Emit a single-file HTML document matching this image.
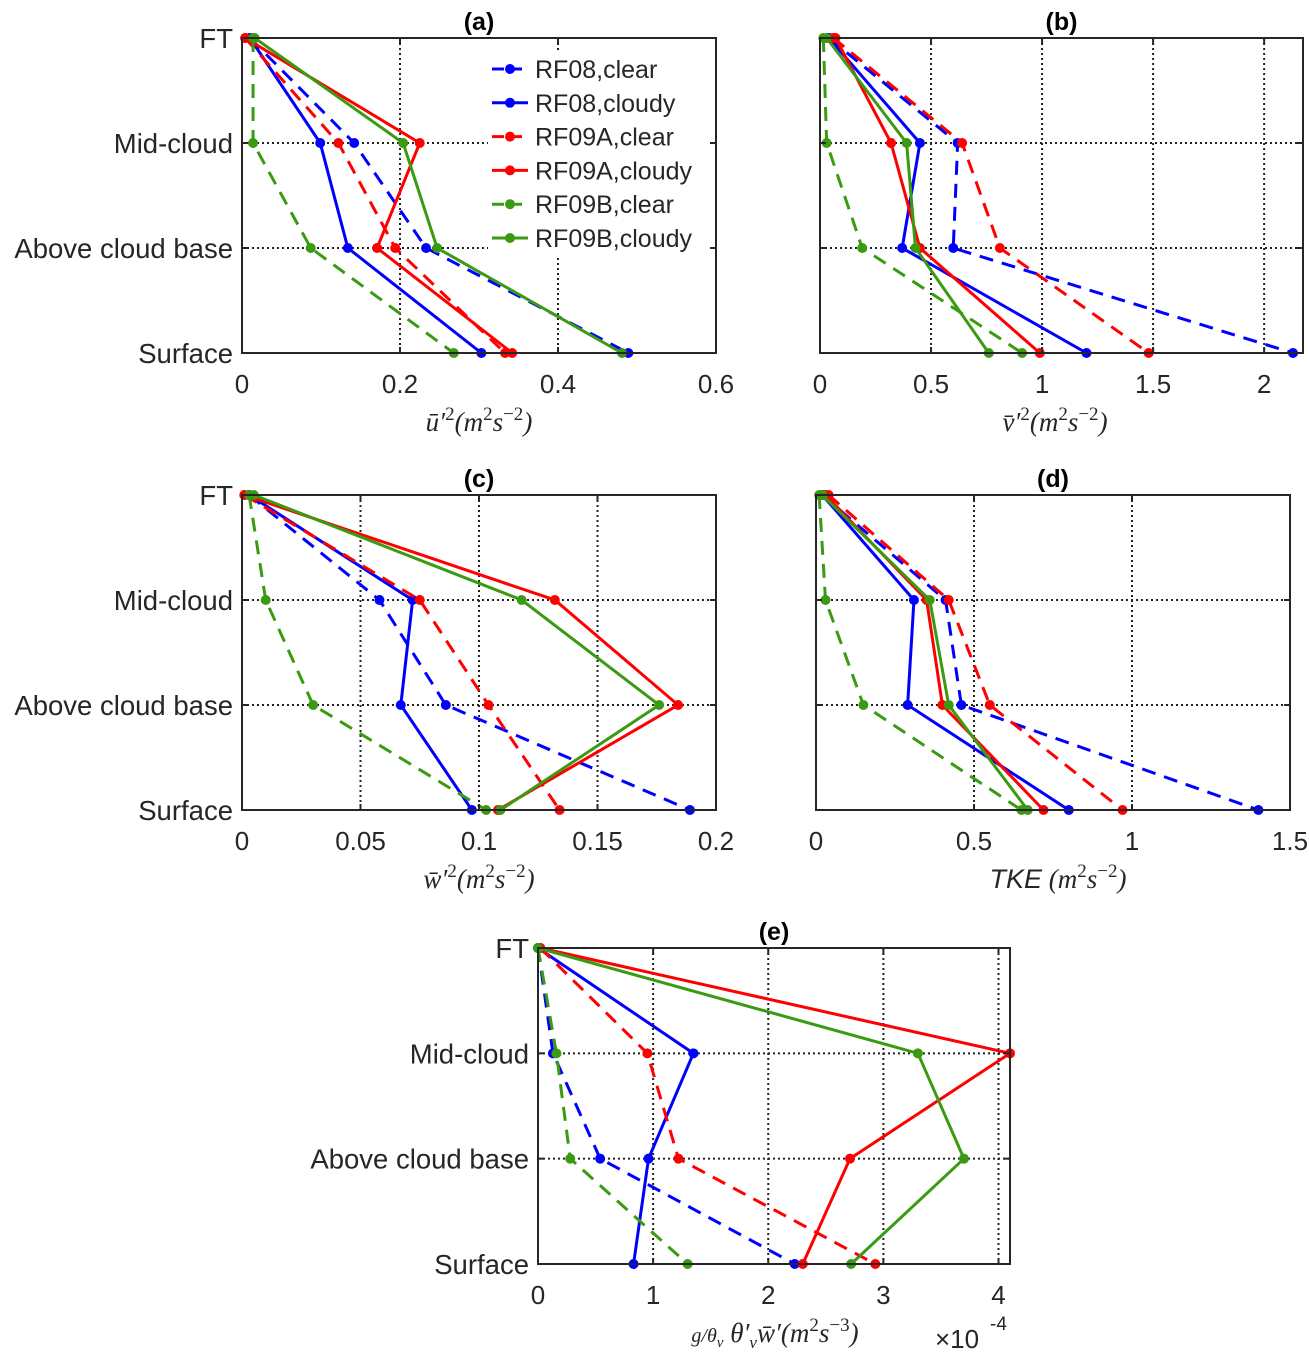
<!DOCTYPE html>
<html><head><meta charset="utf-8">
<style>
body{margin:0;background:#fff;}
svg{display:block;font-family:"Liberation Sans",Arial,sans-serif;}
.tick{font-size:26px;fill:#262626;}
.ytick{font-size:27.5px;fill:#262626;}
.leg{font-size:25px;fill:#262626;}
.lab{font-size:27px;fill:#262626;font-family:"Liberation Serif",serif;font-style:italic;}
.ttl{font-size:25px;font-weight:bold;fill:#000;}
</style></head>
<body>
<svg id="fig" width="1309" height="1356"></svg>
<script>
const levels=["FT","Mid-cloud","Above cloud base","Surface"];
const seriesNames=["RF08,clear","RF08,cloudy","RF09A,clear","RF09A,cloudy","RF09B,clear","RF09B,cloudy"];
const seriesColors=["#0000ff","#0000ff","#ff0000","#ff0000","#3a9a12","#3a9a12"];
const seriesDashed=[true,false,true,false,true,false];
// values per panel, per series, ordered FT, Mid, ACB, Surface
const uVals=[[0.01,0.142,0.233,0.489],[0.01,0.099,0.134,0.303],[0.004,0.122,0.194,0.333],[0.004,0.225,0.171,0.342],[0.014,0.014,0.087,0.268],[0.016,0.204,0.247,0.481]];
const vVals=[[0.04,0.62,0.60,2.13],[0.04,0.45,0.37,1.20],[0.06,0.64,0.81,1.48],[0.07,0.32,0.45,0.99],[0.015,0.03,0.19,0.91],[0.03,0.39,0.43,0.76]];
const wVals=[[0.003,0.058,0.086,0.189],[0.003,0.072,0.067,0.097],[0.001,0.075,0.104,0.134],[0.001,0.132,0.184,0.108],[0.003,0.010,0.030,0.103],[0.005,0.118,0.176,0.109]];
const tkeVals=[[0.02,0.41,0.46,1.40],[0.02,0.31,0.29,0.80],[0.04,0.42,0.55,0.97],[0.03,0.35,0.40,0.72],[0.01,0.03,0.15,0.65],[0.02,0.36,0.42,0.67]];
const buoyVals=[[0,0.13,0.54,2.23],[0,1.35,0.96,0.83],[0.02,0.95,1.22,2.93],[0.02,4.1,2.71,2.30],[0,0.16,0.28,1.30],[0,3.30,3.70,2.72]];
const uTicks=[0,0.2,0.4,0.6], vTicks=[0,0.5,1,1.5,2], wTicks=[0,0.05,0.1,0.15,0.2], tkeTicks=[0,0.5,1,1.5], bTicks=[0,1,2,3,4];

const NS="http://www.w3.org/2000/svg";
const fig=document.getElementById('fig');
function el(tag,attrs,parent,text){const e=document.createElementNS(NS,tag);for(const k in attrs)e.setAttribute(k,attrs[k]);if(text!==undefined)e.textContent=text;(parent||fig).appendChild(e);return e;}

function panel(cfg){
  const g=el('g',{});
  
  
  const x=v=>cfg.x0+(v-cfg.xmin)/(cfg.xmax-cfg.xmin)*(cfg.x1-cfg.x0);
  const y=i=>cfg.y0+i*(cfg.y1-cfg.y0)/3;
  cfg.ticks.forEach(t=>{ if(t>cfg.xmin&&t<cfg.xmax){const l=el('line',{x1:x(t),x2:x(t),y1:cfg.y0,y2:cfg.y1,stroke:'#222','stroke-width':2,'stroke-dasharray':'2,3'},g);}});
  levels.forEach((L,i)=>{ if(i>0&&i<3){const l=el('line',{x1:cfg.x0,x2:cfg.x1,y1:y(i),y2:y(i),stroke:'#222','stroke-width':2,'stroke-dasharray':'2,3'},g);}});
  cfg.vals.forEach((vals,s)=>{
    const pts=vals.map((v,i)=>x(v)+','+y(i)).join(' ');
    const pl=el('polyline',{points:pts,fill:'none',stroke:seriesColors[s],'stroke-width':3,'stroke-dasharray':seriesDashed[s]?'14,9':'none'},g);
    
    
    vals.forEach((v,i)=>{const c=el('circle',{cx:x(v),cy:y(i),r:5,fill:seriesColors[s]},g);
      
      });
  });
  const r=el('rect',{x:cfg.x0,y:cfg.y0,width:cfg.x1-cfg.x0,height:cfg.y1-cfg.y0,fill:'none',stroke:'#262626','stroke-width':2},g);
  
  
  cfg.ticks.forEach(t=>{
    el('line',{x1:x(t),x2:x(t),y1:cfg.y1,y2:cfg.y1-6,stroke:'#262626','stroke-width':2},g);
    el('line',{x1:x(t),x2:x(t),y1:cfg.y0,y2:cfg.y0+6,stroke:'#262626','stroke-width':2},g);
    const tx=el('text',{x:x(t),y:cfg.y1+40,'text-anchor':'middle',class:'tick'},g,String(t));
    
    
  });
  if(cfg.ylabels){levels.forEach((L,i)=>{const tx=el('text',{x:cfg.x0-9,y:y(i)+10,'text-anchor':'end',class:'ytick'},g,L);
    
    });}
  levels.forEach((L,i)=>{el('line',{x1:cfg.x0,x2:cfg.x0+6,y1:y(i),y2:y(i),stroke:'#262626','stroke-width':2},g);el('line',{x1:cfg.x1,x2:cfg.x1-6,y1:y(i),y2:y(i),stroke:'#262626','stroke-width':2},g);});
  const tt=el('text',{x:(cfg.x0+cfg.x1)/2,y:cfg.y0-8,'text-anchor':'middle',class:'ttl'},g,'('+cfg.id+')');
  
  
  const xl=el('text',{x:cfg.xlx,y:cfg.y1+78,'text-anchor':'middle',class:'lab'},g);
  
  
  xl.innerHTML=cfg.xlabel;
  return g;
}
const sup=(s)=>'<tspan dy="-11" font-size="19" font-style="normal">'+s+'</tspan>';
panel({id:'a',x0:242,x1:716,y0:38,y1:353,xmin:0,xmax:0.6,ticks:uTicks,vals:uVals,ylabels:true,xlx:479,xlabel:'u&#772;′'+sup('2')+'<tspan dy="11">(m</tspan>'+sup('2')+'<tspan dy="11">s</tspan>'+sup('−2')+'<tspan dy="11">)</tspan>'});
panel({id:'b',x0:820,x1:1303,y0:38,y1:353,xmin:0,xmax:2.175,ticks:vTicks,vals:vVals,ylabels:false,xlx:1055,xlabel:'v&#772;′'+sup('2')+'<tspan dy="11">(m</tspan>'+sup('2')+'<tspan dy="11">s</tspan>'+sup('−2')+'<tspan dy="11">)</tspan>'});
panel({id:'c',x0:242,x1:716,y0:495,y1:810,xmin:0,xmax:0.2,ticks:wTicks,vals:wVals,ylabels:true,xlx:479,xlabel:'w&#772;′'+sup('2')+'<tspan dy="11">(m</tspan>'+sup('2')+'<tspan dy="11">s</tspan>'+sup('−2')+'<tspan dy="11">)</tspan>'});
panel({id:'d',x0:816,x1:1290,y0:495,y1:810,xmin:0,xmax:1.5,ticks:tkeTicks,vals:tkeVals,ylabels:false,xlx:1058,xlabel:'<tspan font-family="Liberation Sans">TKE</tspan> (m'+sup('2')+'<tspan dy="11">s</tspan>'+sup('−2')+'<tspan dy="11">)</tspan>'});
panel({id:'e',x0:538,x1:1010,y0:948,y1:1264,xmin:0,xmax:4.1,ticks:bTicks,vals:buoyVals,ylabels:true,xlx:775,xlabel:'<tspan font-size="20">g/θ</tspan><tspan font-size="15" dy="5">v</tspan><tspan dy="-5"> θ′</tspan><tspan font-size="17" dy="6">v</tspan><tspan dy="-6">w&#772;′(m</tspan>'+sup('2')+'<tspan dy="11">s</tspan>'+sup('−3')+'<tspan dy="11">)</tspan>'});
const mult=el('text',{x:935,y:1348,class:'tick'},fig,'×10');


el('text',{x:990,y:1330,'font-size':19,fill:'#262626'},fig,'-4');
// legend
const leg=el('g',{});


el('rect',{x:488,y:50,width:222,height:205,fill:'#fff'},leg);
seriesNames.forEach((n,s)=>{
  const yy=69+s*33.8;
  const li=el('g',{},leg);
  
  
  el('line',{x1:492,x2:528,y1:yy,y2:yy,stroke:seriesColors[s],'stroke-width':3,'stroke-dasharray':seriesDashed[s]?'12,6':'none'},li);
  el('circle',{cx:510,cy:yy,r:5,fill:seriesColors[s]},li);
  el('text',{x:535,y:yy+9,class:'leg'},li,n);
});
</script>
</body></html>
